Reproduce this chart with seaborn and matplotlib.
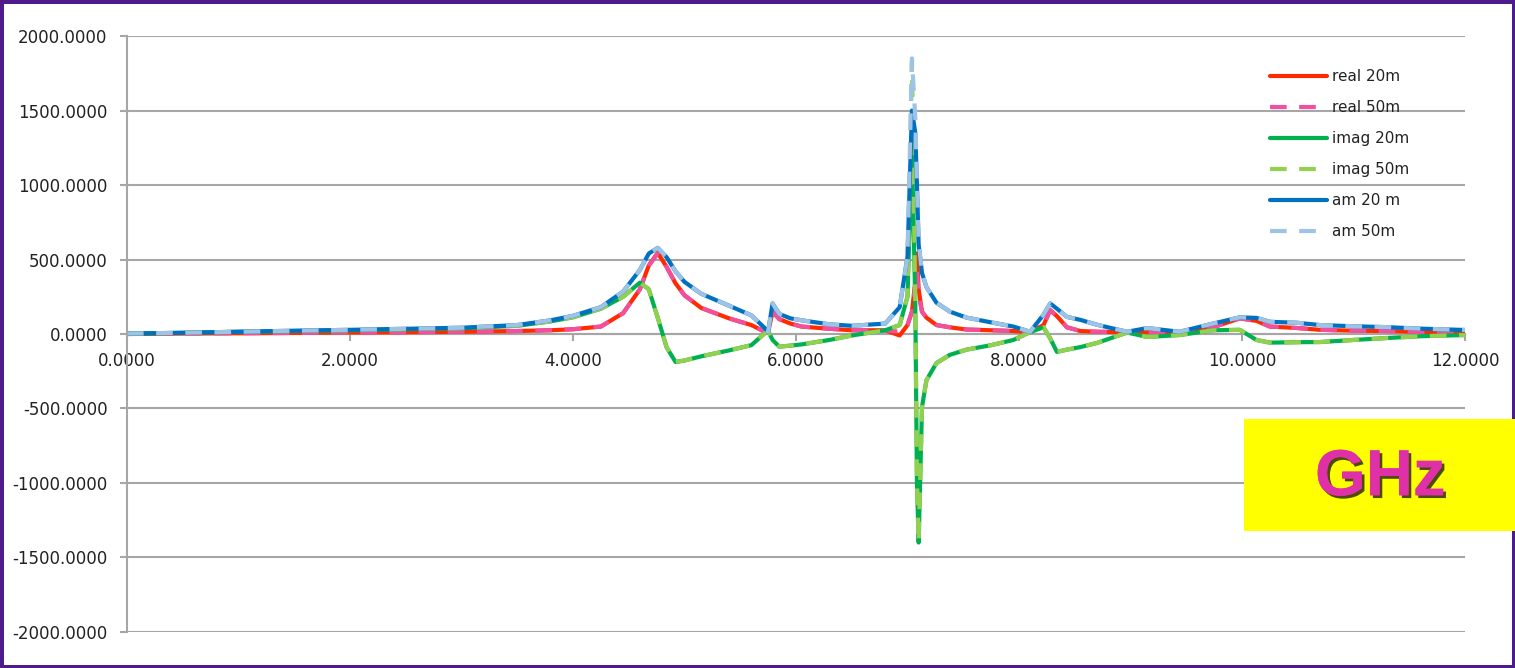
import pandas as pd
import seaborn as sns
import matplotlib.pyplot as plt
import matplotlib.patheffects as pe
from matplotlib.patches import Rectangle
from matplotlib.ticker import MultipleLocator, StrMethodFormatter

# frequency axis (GHz)
freq = [0.0, 0.5, 1.0, 1.5, 2.0, 2.5, 3.0, 3.5, 3.8, 4.0,
        4.25, 4.45, 4.6, 4.68, 4.76, 4.84, 4.92, 5.0, 5.15, 5.4,
        5.6, 5.72, 5.75, 5.79, 5.85, 5.95, 6.05, 6.3, 6.5, 6.8,
        6.93, 7.0, 7.04, 7.07, 7.085, 7.1, 7.13, 7.17, 7.26, 7.38,
        7.53, 7.75, 7.95, 8.1, 8.22, 8.28, 8.34, 8.43, 8.55, 8.7,
        8.97, 9.15, 9.44, 9.74, 9.98, 10.13, 10.25, 10.5, 10.7, 11.0,
        11.3, 11.6, 12.0]

real_20 = [0, 3, 5, 7, 10, 12, 15, 20, 25, 32,
           50, 140, 300, 460, 545, 450, 340, 260, 175, 105,
           60, 15, 10, 150, 100, 70, 50, 35, 25, 25,
           -10, 60, 150, 350, 540, 300, 150, 110, 60, 45,
           30, 25, 20, 12, 60, 160, 120, 45, 20, 15,
           12, 12, 12, 45, 105, 88, 50, 40, 28, 22,
           20, 14, 7]
real_50 = [0, 3, 5, 7, 10, 12, 15, 20, 25, 32,
           50, 140, 300, 460, 540, 450, 340, 260, 175, 105,
           60, 15, 10, 150, 100, 70, 50, 35, 25, 25,
           15, 60, 150, 330, 430, 260, 150, 110, 60, 45,
           30, 25, 20, 12, 60, 160, 120, 45, 20, 15,
           12, 12, 12, 45, 105, 88, 50, 40, 28, 22,
           20, 14, 7]
imag_20 = [2, 8, 15, 20, 25, 32, 38, 55, 85, 112,
           170, 250, 345, 300, 110, -90, -188, -178, -150, -110,
           -75, 5, 20, -40, -85, -78, -70, -40, -10, 25,
           60, 250, 1250, 200, -1000, -1400, -490, -310, -195, -140,
           -105, -75, -40, 13, 45, -30, -120, -105, -88, -60,
           10, -20, -7, 25, 28, -40, -58, -55, -54, -40,
           -27, -15, -7]
imag_50 = [2, 8, 15, 20, 25, 32, 38, 55, 85, 112,
           170, 250, 345, 300, 110, -90, -188, -178, -150, -110,
           -75, 5, 20, -40, -85, -78, -70, -40, -10, 25,
           60, 250, 1830, 200, -1000, -1400, -490, -310, -195, -140,
           -105, -75, -40, 13, 45, -30, -120, -105, -88, -60,
           10, -20, -7, 25, 28, -40, -58, -55, -54, -40,
           -27, -15, -7]
am_20 = [3, 8, 15, 22, 28, 35, 42, 60, 92, 122,
         180, 285, 430, 540, 578, 515, 420, 350, 270, 190,
         125, 40, 15, 205, 135, 105, 92, 65, 55, 70,
         180, 520, 1500, 1350, 1000, 600, 410, 315, 210, 150,
         110, 78, 50, 15, 130, 205, 170, 115, 95, 62,
         15, 40, 15, 70, 112, 108, 82, 75, 60, 52,
         46, 36, 27]
am_50 = [3, 8, 15, 22, 28, 35, 42, 60, 92, 122,
         180, 285, 430, 540, 578, 515, 420, 350, 270, 190,
         125, 40, 15, 205, 135, 105, 92, 65, 55, 70,
         180, 520, 1850, 1450, 1000, 620, 410, 315, 210, 150,
         110, 78, 50, 15, 130, 205, 170, 115, 95, 62,
         15, 40, 15, 70, 112, 108, 82, 75, 60, 52,
         46, 36, 27]

series_names = ["real 20m", "real 50m", "imag 20m", "imag 50m", "am 20 m", "am 50m"]
series_values = [real_20, real_50, imag_20, imag_50, am_20, am_50]
colors = ["#FF2A00", "#F0509E", "#00B050", "#92D050", "#0070C0", "#9DC3E6"]
dashed = [False, True, False, True, False, True]

frames = [pd.DataFrame({"freq": freq, "value": v, "series": n})
          for n, v in zip(series_names, series_values)]
df = pd.concat(frames, ignore_index=True)

sns.set_style("white")
plt.rcParams["font.family"] = ["DejaVu Sans"]
plt.rcParams["axes.unicode_minus"] = False

fig = plt.figure(figsize=(15.15, 6.68), dpi=100)
ax = fig.add_axes([0.0838, 0.054, 0.8832, 0.892])

for name, col, dsh in zip(series_names, colors, dashed):
    sub = df[df["series"] == name]
    sns.lineplot(data=sub, x="freq", y="value", ax=ax, color=col, label=name,
                 linewidth=3, linestyle=(0, (4, 3)) if dsh else "-",
                 sort=False, legend=False)

ax.set_xlim(0, 12)
ax.set_ylim(-2000, 2000)
ax.xaxis.set_major_locator(MultipleLocator(2))
ax.yaxis.set_major_locator(MultipleLocator(500))
ax.xaxis.set_major_formatter(StrMethodFormatter("{x:.4f}"))
ax.yaxis.set_major_formatter(StrMethodFormatter("{x:.4f}"))
ax.set_xlabel("")
ax.set_ylabel("")

ax.grid(axis="y", color="#A6A6A6", linewidth=1.5)
ax.grid(axis="x", visible=False)
ax.set_axisbelow(True)
for s in ["top", "right"]:
    ax.spines[s].set_visible(False)
ax.spines["bottom"].set_position(("data", 0))
ax.spines["bottom"].set_color("#A6A6A6")
ax.spines["bottom"].set_linewidth(1.5)
ax.spines["bottom"].set_zorder(0.5)
ax.spines["left"].set_color("#A6A6A6")
ax.spines["left"].set_linewidth(1.5)
ax.tick_params(axis="x", direction="out", length=5, width=1.5, color="#A6A6A6",
               pad=8, labelsize=12, labelcolor="#222222", bottom=True)
ax.tick_params(axis="y", direction="out", length=5, width=1.5, color="#A6A6A6",
               pad=9, labelsize=12, labelcolor="#222222", left=True)

leg = ax.legend(loc="upper left", bbox_to_anchor=(0.8335, 0.908),
                bbox_transform=fig.transFigure, frameon=False, fontsize=11,
                handlelength=3.7, handletextpad=0.3, labelspacing=1.05,
                borderpad=0)
for t in leg.get_texts():
    t.set_color("#222222")

# yellow unit box
fig.patches.append(Rectangle((0.8211, 0.2051), 0.179, 0.1677,
                             transform=fig.transFigure, facecolor="#FFFF00",
                             edgecolor="none", zorder=5))
fig.text(0.911, 0.284, "GHz", ha="center", va="center", fontsize=47,
         fontweight="bold", family=["Liberation Sans", "DejaVu Sans"],
         color="#E030A8", zorder=6,
         path_effects=[pe.withSimplePatchShadow(offset=(2, -2),
                                                shadow_rgbFace="black", alpha=0.7),
                       pe.Normal()])

fig.patch.set_edgecolor("#4E1A8C")
fig.patch.set_linewidth(5)

fig.savefig("out.png", dpi=100, edgecolor=fig.get_edgecolor())
